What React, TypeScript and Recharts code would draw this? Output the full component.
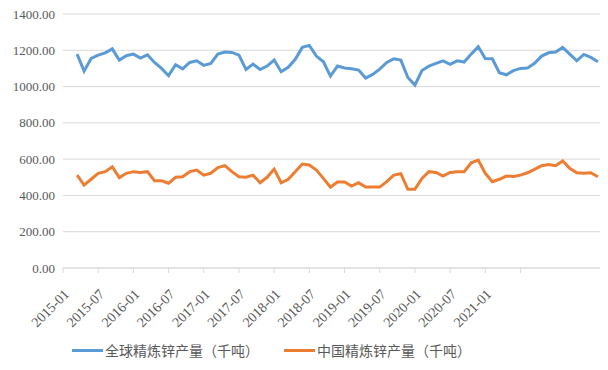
import React from 'react'
import { LineChart, Line, XAxis, YAxis, CartesianGrid, Legend } from 'recharts'

// 全球精炼锌产量（千吨）, monthly
const globalOutput = [
  1179, 1085, 1155, 1173, 1186, 1208, 1146, 1170, 1179, 1157,
  1175, 1133, 1100, 1060, 1120, 1098, 1133, 1142, 1117, 1128,
  1179, 1190, 1188, 1173, 1094, 1124, 1094, 1113, 1146, 1082,
  1106, 1150, 1216, 1227, 1168, 1137, 1058, 1113, 1102, 1098,
  1091, 1047, 1067, 1096, 1133, 1153, 1146, 1050, 1008, 1088,
  1113, 1128, 1142, 1122, 1142, 1135, 1179, 1220, 1155, 1153,
  1076, 1065, 1088, 1100, 1102, 1128, 1168, 1186, 1190, 1216,
  1179, 1142, 1177, 1161, 1137,
]

// 中国精炼锌产量（千吨）
const chinaOutput = [
  512, 457, 489, 522, 531, 558, 498, 522, 531, 527,
  531, 481, 481, 467, 500, 503, 531, 540, 512, 522,
  553, 564, 531, 503, 500, 512, 470, 500, 545, 470,
  489, 531, 573, 568, 540, 494, 445, 474, 474, 452,
  470, 446, 446, 446, 476, 512, 520, 434, 434, 494,
  531, 527, 507, 527, 531, 531, 580, 595, 522, 476,
  489, 507, 505, 512, 525, 544, 564, 571, 564, 590,
  549, 525, 522, 525, 503,
]

const xTickLabels = [
  '2015-01', '2015-07', '2016-01', '2016-07', '2017-01', '2017-07', '2018-01',
  '2018-07', '2019-01', '2019-07', '2020-01', '2020-07', '2021-01',
]

const yTicks = [0, 200, 400, 600, 800, 1000, 1200, 1400]

const seriesNames = ['全球精炼锌产量（千吨）', '中国精炼锌产量（千吨）']
const COLORS = ['#5B9BD5', '#ED7D31']

// the first point sits two category slots in from the axis start
const START = 2
const TICK_STEP = 5

const data = globalOutput.map((v, i) => ({
  idx: i + START,
  global: v,
  china: chinaOutput[i],
}))

const xTicks = Array.from({ length: xTickLabels.length + 1 }, (_, i) => i * TICK_STEP)

const SERIF = '"Liberation Serif", "Times New Roman", serif'
const CJK = '"Noto Sans CJK SC", sans-serif'

const RotatedTick = (props: any) => {
  const { x, y, payload } = props
  const label = xTickLabels[payload.value / TICK_STEP] || ''
  const tx = x + 7
  const ty = y + 20
  return (
    <text
      x={tx}
      y={ty}
      textAnchor="end"
      fill="#595959"
      fontSize={14}
      fontFamily={SERIF}
      transform={`rotate(-45, ${tx}, ${ty})`}
    >
      {label}
    </text>
  )
}

const LegendContent = () => (
  <div style={{ display: 'flex', alignItems: 'center', paddingLeft: 72, paddingTop: 14 }}>
    {seriesNames.map((name, i) => (
      <div
        key={name}
        style={{ display: 'flex', alignItems: 'center', marginRight: i === 0 ? 25 : 0 }}
      >
        <div style={{ width: 31, height: 3, background: COLORS[i], marginRight: 2 }} />
        <span style={{ fontFamily: CJK, fontSize: 14, color: '#595959', lineHeight: '16px' }}>
          {name}
        </span>
      </div>
    ))}
  </div>
)

export default function App() {
  return (
    <div style={{ position: 'absolute', left: 0, top: 0, width: 608, height: 370, background: '#fff' }}>
      <LineChart width={608} height={370} data={data} margin={{ top: 14, right: 8, left: 0, bottom: 0 }}>
        <CartesianGrid stroke="#d9d9d9" vertical={false} />
        <XAxis
          dataKey="idx"
          type="number"
          domain={[0, 76.3]}
          ticks={xTicks}
          interval={0}
          height={60}
          stroke="#d9d9d9"
          tickSize={5}
          tick={<RotatedTick />}
        />
        <YAxis
          type="number"
          domain={[0, 1400]}
          ticks={yTicks}
          width={63}
          axisLine={false}
          tickLine={false}
          tickFormatter={(v: number) => v.toFixed(2)}
          tick={{ fill: '#595959', fontSize: 13, fontFamily: SERIF }}
        />
        <Legend verticalAlign="bottom" height={42} content={<LegendContent />} wrapperStyle={{ left: 0, width: 608 }} />
        <Line
          dataKey="global"
          name={seriesNames[0]}
          stroke={COLORS[0]}
          strokeWidth={3}
          dot={false}
          isAnimationActive={false}
        />
        <Line
          dataKey="china"
          name={seriesNames[1]}
          stroke={COLORS[1]}
          strokeWidth={3}
          dot={false}
          isAnimationActive={false}
        />
      </LineChart>
    </div>
  )
}
